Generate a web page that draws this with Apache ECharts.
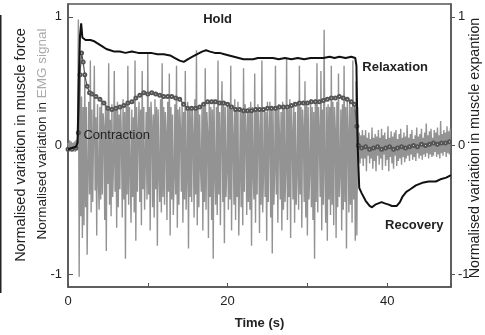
<!DOCTYPE html>
<html>
<head>
<meta charset="utf-8">
<script src="https://cdn.jsdelivr.net/npm/echarts@6/dist/echarts.min.js"></script>
<style>
html, body { margin: 0; padding: 0; background: #fff; }
#main { width: 485px; height: 335px; }
</style>
</head>
<body>
<div id="main"></div>
<script>
// tick labels
var xLabels = [0, 20, 40];
var yLabels = [-1, 0, 1];

// EMG signal, sampled every 0.1 s from t = 0 (one row per second)
var emgStart = 0;
var emgStep = 0.1;
var emg = [
    0.02,-0.03,0.04,-0.02,0.03,-0.04,0.02,-0.03,0.03,-0.05,
    0.04,-0.04,0.05,0.98,-1.02,0.62,-0.55,0.38,-0.72,0.3,
    -0.62,0.55,-0.48,0.3,-0.85,-0.2,0.34,-0.38,0.66,-0.52,
    0.28,-0.44,0.1,0.62,-0.35,0.22,-0.7,0.32,-0.25,-0.5,
    0.3,-0.42,0.36,-0.38,0.25,0.15,-0.58,0.34,-0.82,0.3,
    -0.3,0.64,-0.46,0.2,-0.55,0.32,-0.4,-0.15,0.58,-0.36,
    0.28,-0.64,0.34,-0.48,0.24,-0.34,0.3,0.05,-0.56,0.36,
    -0.42,0.26,-0.88,0.32,-0.38,0.62,-0.46,0.3,-0.2,-0.6,
    0.28,-0.4,0.22,-0.52,0.66,-0.74,0.3,-0.36,0.12,0.34,
    -0.44,0.28,-0.62,0.58,-0.34,0.3,-0.5,-0.1,0.26,-0.42,
    0.72,-0.38,0.3,-0.66,0.34,0.18,-0.48,0.24,-0.56,0.36,
    -0.34,0.3,-0.78,0.28,-0.2,-0.44,0.36,-0.52,0.64,-0.4,
    0.3,-0.46,0.26,0.1,-0.58,0.34,-0.36,0.56,-0.7,0.3,
    -0.42,0.24,-0.54,-0.25,0.32,-0.38,0.62,-0.64,0.28,-0.46,
    0.3,0.12,-0.36,0.34,-0.6,0.26,-0.42,0.58,-0.5,-0.2,
    0.34,-0.8,0.3,-0.4,0.28,-0.44,0.28,0.08,-0.56,0.36,
    -0.38,0.74,-0.62,0.3,-0.48,0.24,-0.15,-0.36,0.32,-0.66,
    0.3,-0.44,0.6,-0.5,0.26,0.1,-0.72,0.34,-0.4,0.3,
    -0.58,0.28,-0.88,0.36,-0.2,-0.46,0.3,-0.54,0.66,-0.38,
    0.26,-0.62,0.12,0.5,-0.44,0.34,-0.76,0.3,-0.4,-0.18,
    0.32,-0.5,0.32,-0.42,0.62,-0.66,0.28,0.06,-0.46,0.36,
    -0.58,0.3,-0.4,0.34,-0.7,-0.25,0.3,-0.48,0.26,-0.62,
    0.6,-0.36,0.32,0.1,-0.54,0.28,-0.44,0.3,-0.5,0.34,
    -0.78,0.3,-0.2,-0.42,0.56,-0.6,0.3,-0.38,0.32,0.12,
    -0.68,0.28,-0.46,0.66,-0.52,-0.22,0.3,-0.4,0.26,-0.74,
    0.34,-0.44,0.1,0.34,-0.56,0.3,-0.84,0.28,-0.46,-0.2,
    0.62,-0.38,0.3,-0.6,0.32,0.08,-0.42,0.26,-0.66,0.34,
    -0.5,0.3,-0.44,-0.18,0.68,-0.58,0.28,-0.4,0.36,-0.72,
    0.3,0.1,-0.42,0.34,-0.6,0.26,-0.46,-0.2,0.32,-0.5,
    0.62,-0.38,0.3,-0.64,0.28,0.12,-0.44,0.5,-0.56,0.34,
    -0.7,0.3,-0.42,-0.2,0.36,-0.48,0.3,-0.58,0.26,-0.88,
    0.36,-0.44,0.64,-0.52,0.3,0.1,-0.4,0.58,-0.66,0.28,
    -0.46,0.9,-0.2,-0.6,0.3,-0.74,0.32,-0.42,0.3,-0.54,
    0.62,-0.46,0.34,-0.62,0.3,0.12,-0.72,0.34,-0.48,0.56,
    -0.4,-0.2,0.28,-0.66,0.32,-0.5,0.62,-0.44,0.3,-0.8,
    0.36,0.1,-0.52,0.34,-0.46,0.3,-0.6,0.66,-0.42,0.28,
    -0.74,0.5,-0.7,0.3,-0.12,0.1,-0.14,0.08,-0.1,0.12,
    -0.16,0.08,-0.1,0.12,-0.2,0.06,-0.08,0.1,-0.14,0.05,
    -0.1,0.14,-0.18,0.06,-0.12,0.09,-0.2,0.07,-0.08,0.12,
    -0.15,0.06,-0.1,0.13,-0.19,0.08,-0.07,0.1,-0.16,0.05,
    -0.11,0.15,-0.2,0.06,-0.09,0.11,-0.14,0.07,-0.18,0.1,
    -0.08,0.12,-0.16,0.05,-0.12,0.09,-0.1,0.13,-0.15,0.06,
    -0.09,0.1,-0.13,0.07,-0.1,0.16,-0.08,0.06,-0.12,0.09,
    -0.07,0.12,-0.11,0.05,-0.09,0.08,-0.12,0.14,-0.06,0.07,
    -0.1,0.09,-0.08,0.13,-0.11,0.06,-0.07,0.1,-0.09,0.17,
    -0.06,0.08,-0.1,0.11,-0.07,0.13,-0.09,0.06,-0.08,0.12,
    -0.05,0.1,-0.09,0.14,-0.07,0.08,-0.1,0.19,-0.06,0.09,
    -0.08,0.12,-0.05,0.1,-0.09,0.15,-0.06,0.11,-0.07,0.13
];

// muscle force (black line): [time, value]
var force = [
    [0,-0.03],[0.5,-0.02],[1.0,-0.01],[1.2,0.02],[1.35,0.5],[1.5,0.85],[1.65,0.95],[1.8,0.84],
    [2.2,0.82],[2.8,0.82],[3.3,0.81],[3.8,0.79],[4.3,0.77],[4.8,0.75],[5.3,0.74],[5.8,0.73],
    [6.5,0.73],[7.2,0.72],[8,0.73],[8.8,0.72],[9.6,0.72],[10.4,0.72],[11.2,0.71],[12,0.71],
    [12.8,0.70],[13.4,0.68],[14,0.66],[14.5,0.65],[15,0.67],[15.6,0.69],[16.2,0.71],[16.8,0.73],
    [17.3,0.74],[17.8,0.73],[18.4,0.72],[19,0.72],[19.6,0.71],[20.2,0.70],[20.8,0.69],[21.4,0.68],
    [22,0.67],[22.6,0.67],[23.2,0.67],[23.8,0.68],[24.4,0.68],[25,0.68],[25.7,0.68],[26.4,0.67],
    [27.2,0.68],[28,0.67],[28.8,0.68],[29.6,0.67],[30.4,0.68],[31.2,0.68],[32,0.68],[32.8,0.69],
    [33.4,0.68],[34,0.69],[34.8,0.68],[35.5,0.69],[36.0,0.68],[36.15,0.62],[36.3,0.0],[36.5,-0.33],
    [36.8,-0.37],[37.3,-0.43],[37.8,-0.47],[38.1,-0.48],[38.5,-0.46],[38.9,-0.45],[39.3,-0.44],
    [39.7,-0.45],[40.2,-0.46],[40.6,-0.47],[41.2,-0.47],[41.6,-0.44],[41.9,-0.40],[42.4,-0.36],
    [42.9,-0.34],[43.6,-0.31],[44.4,-0.29],[45.2,-0.28],[46.1,-0.28],[46.8,-0.26],[47.4,-0.25],[48,-0.23]
];

// muscle expansion (grey line with markers): [time, value]
var expansion = [
    [0,-0.03],[0.5,-0.03],[1.0,-0.02],[1.3,0.1],[1.5,0.55],[1.7,0.72],[1.9,0.65],[2.1,0.55],
    [2.4,0.46],[2.7,0.41],[3.0,0.40],[3.5,0.38],[4.0,0.36],[4.5,0.33],[5.0,0.29],[5.5,0.28],
    [6.0,0.29],[6.5,0.30],[7.0,0.31],[7.5,0.33],[8.0,0.34],[8.5,0.37],[9.0,0.39],[9.5,0.41],
    [10.0,0.40],[10.5,0.41],[11.0,0.40],[11.5,0.39],[12.0,0.38],[12.5,0.38],[13.0,0.38],[13.5,0.37],
    [14.0,0.36],[14.5,0.32],[15.0,0.29],[15.5,0.29],[16.0,0.29],[16.5,0.30],[17.0,0.32],[17.5,0.34],
    [18.0,0.34],[18.5,0.34],[19.0,0.33],[19.5,0.33],[20.0,0.32],[20.5,0.30],[21.0,0.28],[21.5,0.28],
    [22.0,0.27],[22.5,0.27],[23.0,0.27],[23.5,0.28],[24.0,0.28],[24.5,0.28],[25.0,0.29],[25.5,0.29],
    [26.0,0.29],[26.5,0.30],[27.0,0.30],[27.5,0.30],[28.0,0.31],[28.5,0.32],[29.0,0.33],[29.5,0.33],
    [30.0,0.33],[30.5,0.34],[31.0,0.34],[31.5,0.34],[32.0,0.35],[32.5,0.36],[33.0,0.37],[33.5,0.37],
    [34.0,0.38],[34.5,0.37],[35.0,0.36],[35.5,0.34],[35.9,0.32],[36.2,0.15],[36.4,0.0],[36.8,-0.02],
    [37.3,-0.01],[37.8,-0.03],[38.3,-0.02],[38.8,-0.01],[39.3,-0.03],[39.8,-0.02],[40.3,-0.01],[40.8,-0.03],
    [41.3,-0.02],[41.8,-0.01],[42.3,-0.02],[42.8,-0.01],[43.3,0.0],[43.8,-0.01],[44.3,0.01],[44.8,0.0],
    [45.3,0.01],[45.8,0.02],[46.3,0.01],[46.8,0.02],[47.3,0.02],[47.8,0.03]
];

// phase annotations: text, time, value, weight
var phases = [
    ['Hold', 18.75, 0.98, 'bold'],
    ['Contraction', 6.1, 0.08, 'normal'],
    ['Relaxation', 41, 0.61, 'bold'],
    ['Recovery', 43.4, -0.62, 'bold']
];

var FONT = '"Liberation Sans", Arial, sans-serif';

var emgData = [];
for (var i = 0; i < emg.length; i++) {
    emgData.push([+(emgStart + i * emgStep).toFixed(2), emg[i]]);
}

var myChart = echarts.init(document.getElementById('main'));

var option = {
    animation: false,
    backgroundColor: '#fff',
    grid: {
        left: 68, right: 34, top: 4, bottom: 48,
        show: true, borderColor: '#555', borderWidth: 1.5
    },
    xAxis: {
        type: 'value',
        min: 0, max: 48, interval: 10,
        axisLine: { show: true, onZero: false, lineStyle: { color: '#555', width: 1.5 } },
        axisTick: { show: true, inside: true, length: 4, lineStyle: { color: '#555' } },
        splitLine: { show: false },
        axisLabel: {
            color: '#222', fontSize: 13, fontFamily: FONT, margin: 8,
            formatter: function (v) { return xLabels.indexOf(v) >= 0 ? String(v) : ''; }
        },
        name: 'Time (s)',
        nameLocation: 'middle',
        nameGap: 30,
        nameTextStyle: { color: '#222', fontSize: 13, fontWeight: 'bold', fontFamily: FONT }
    },
    yAxis: [
        {
            type: 'value', position: 'left',
            min: -1.1, max: 1.1,
            axisLine: { show: true, onZero: false, lineStyle: { color: '#555', width: 1.5 } },
            axisTick: { show: true, inside: true, length: 5, customValues: yLabels, lineStyle: { color: '#555' } },
            splitLine: { show: false },
            axisLabel: { color: '#222', fontSize: 13, fontFamily: FONT, margin: 6, customValues: yLabels }
        },
        {
            type: 'value', position: 'right',
            min: -1.1, max: 1.1,
            axisLine: { show: true, onZero: false, lineStyle: { color: '#555', width: 1.5 } },
            axisTick: { show: true, inside: false, length: 4, customValues: yLabels, lineStyle: { color: '#555' } },
            splitLine: { show: false },
            axisLabel: { color: '#222', fontSize: 13, fontFamily: FONT, margin: 7, customValues: yLabels }
        }
    ],
    series: [
        {
            name: 'EMG', type: 'line', data: emgData,
            showSymbol: false, symbol: 'none',
            lineStyle: { color: '#939393', width: 1.4 },
            z: 1
        },
        {
            name: 'Expansion', type: 'line', data: expansion, yAxisIndex: 1,
            symbol: 'emptyCircle', symbolSize: 3, showSymbol: true,
            itemStyle: { color: '#555', borderWidth: 1 },
            lineStyle: { color: '#555', width: 1.2 },
            z: 2
        },
        {
            name: 'Force', type: 'line', data: force,
            showSymbol: false, symbol: 'none',
            lineStyle: { color: '#111', width: 2 },
            z: 3
        }
    ]
};

myChart.setOption(option);

// axis titles and phase labels
var graphics = [
    { type: 'rect', shape: { x: 0, y: 15, width: 1.5, height: 278 }, style: { fill: '#222' } },
    {
        type: 'text', x: 21, y: 145, rotation: Math.PI / 2,
        style: { text: 'Normalised variation in muscle force', fill: '#222', font: '14.5px ' + FONT, align: 'center', verticalAlign: 'middle' }
    },
    {
        type: 'text', x: 42, y: 134, rotation: Math.PI / 2,
        style: {
            text: '{a|Normalised variation in }{b|EMG signal}',
            align: 'center', verticalAlign: 'middle',
            rich: {
                a: { fill: '#222', font: '13.5px ' + FONT },
                b: { fill: '#aaa', font: '13.5px ' + FONT }
            }
        }
    },
    {
        type: 'text', x: 475, y: 148, rotation: Math.PI / 2,
        style: { text: 'Normalised variation in muscle expantion', fill: '#222', font: '14.3px ' + FONT, align: 'center', verticalAlign: 'middle' }
    }
];
for (var k = 0; k < phases.length; k++) {
    var p = myChart.convertToPixel({ gridIndex: 0 }, [phases[k][1], phases[k][2]]);
    graphics.push({
        type: 'text', x: p[0], y: p[1], z: 10,
        style: { text: phases[k][0], fill: '#222', font: phases[k][3] + ' 13px ' + FONT, align: 'center', verticalAlign: 'middle' }
    });
}
myChart.setOption({ graphic: graphics });
</script>
</body>
</html>
